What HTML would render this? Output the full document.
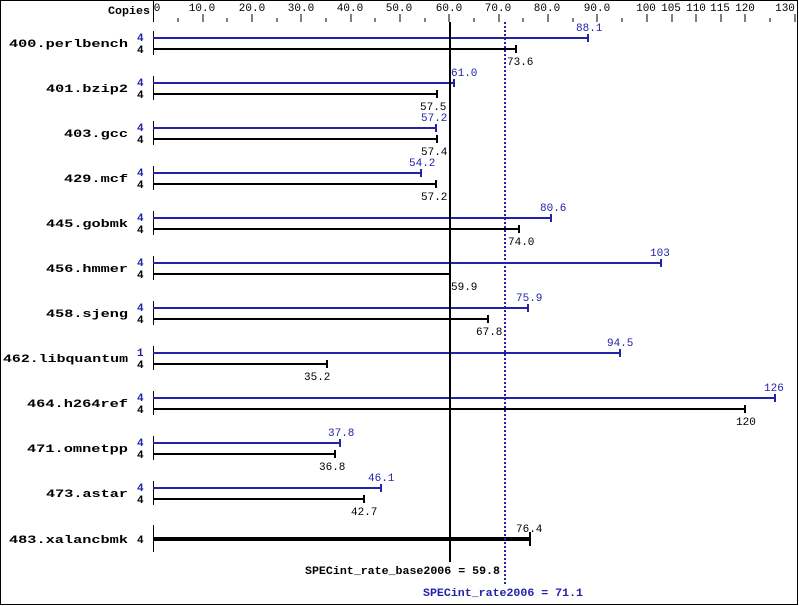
<!DOCTYPE html>
<html><head><meta charset="utf-8"><style>
html,body{margin:0;padding:0;background:#fff}
svg{display:block}
text{font-family:"Liberation Mono","DejaVu Sans Mono",monospace;font-size:11px}
.b{font-weight:bold}
.bl{fill:#2222aa}
</style></head><body>
<svg width="799" height="606" viewBox="0 0 799 606" xmlns="http://www.w3.org/2000/svg">
<rect x="0.5" y="0.5" width="797" height="604" fill="#fff" stroke="#000"/>
<text x="108" y="14" class="b" textLength="42" lengthAdjust="spacingAndGlyphs">Copies</text>
<line x1="153.5" y1="0" x2="153.5" y2="22" stroke="#000"/>
<g stroke="#000">
<line x1="203" y1="14" x2="203" y2="22"/><line x1="252" y1="14" x2="252" y2="22"/><line x1="301" y1="14" x2="301" y2="22"/><line x1="351" y1="14" x2="351" y2="22"/><line x1="400" y1="14" x2="400" y2="22"/><line x1="449" y1="14" x2="449" y2="22"/><line x1="499" y1="14" x2="499" y2="22"/><line x1="548" y1="14" x2="548" y2="22"/><line x1="597" y1="14" x2="597" y2="22"/><line x1="647" y1="14" x2="647" y2="22"/><line x1="672" y1="14" x2="672" y2="22"/><line x1="696" y1="14" x2="696" y2="22"/><line x1="721" y1="14" x2="721" y2="22"/><line x1="745" y1="14" x2="745" y2="22"/><line x1="795" y1="14" x2="795" y2="22"/>
<line x1="178" y1="18" x2="178" y2="22"/><line x1="227" y1="18" x2="227" y2="22"/><line x1="277" y1="18" x2="277" y2="22"/><line x1="326" y1="18" x2="326" y2="22"/><line x1="375" y1="18" x2="375" y2="22"/><line x1="425" y1="18" x2="425" y2="22"/><line x1="474" y1="18" x2="474" y2="22"/><line x1="523" y1="18" x2="523" y2="22"/><line x1="573" y1="18" x2="573" y2="22"/><line x1="622" y1="18" x2="622" y2="22"/><line x1="770" y1="18" x2="770" y2="22"/>
</g>
<g text-anchor="middle">
<text x="157" y="11">0</text><text x="202" y="11">10.0</text><text x="252" y="11">20.0</text><text x="301" y="11">30.0</text><text x="350" y="11">40.0</text><text x="399" y="11">50.0</text><text x="449" y="11">60.0</text><text x="498" y="11">70.0</text><text x="547" y="11">80.0</text><text x="597" y="11">90.0</text><text x="646" y="11">100</text><text x="671" y="11">105</text><text x="696" y="11">110</text><text x="720" y="11">115</text><text x="745" y="11">120</text><text x="785" y="11">130</text>
</g>

<g class="b">
<text x="9" y="47" textLength="119" lengthAdjust="spacingAndGlyphs">400.perlbench</text>
<text x="46" y="92" textLength="82" lengthAdjust="spacingAndGlyphs">401.bzip2</text>
<text x="64" y="137" textLength="64" lengthAdjust="spacingAndGlyphs">403.gcc</text>
<text x="64" y="182" textLength="64" lengthAdjust="spacingAndGlyphs">429.mcf</text>
<text x="46" y="227" textLength="82" lengthAdjust="spacingAndGlyphs">445.gobmk</text>
<text x="46" y="272" textLength="82" lengthAdjust="spacingAndGlyphs">456.hmmer</text>
<text x="46" y="317" textLength="82" lengthAdjust="spacingAndGlyphs">458.sjeng</text>
<text x="3" y="362" textLength="125" lengthAdjust="spacingAndGlyphs">462.libquantum</text>
<text x="27" y="407" textLength="101" lengthAdjust="spacingAndGlyphs">464.h264ref</text>
<text x="27" y="452" textLength="101" lengthAdjust="spacingAndGlyphs">471.omnetpp</text>
<text x="46" y="497" textLength="82" lengthAdjust="spacingAndGlyphs">473.astar</text>
<text x="9" y="543" textLength="119" lengthAdjust="spacingAndGlyphs">483.xalancbmk</text>
</g>
<g class="b">
<text x="137" y="41" class="bl">4</text><text x="137" y="53">4</text>
<text x="137" y="86" class="bl">4</text><text x="137" y="98">4</text>
<text x="137" y="131" class="bl">4</text><text x="137" y="143">4</text>
<text x="137" y="176" class="bl">4</text><text x="137" y="188">4</text>
<text x="137" y="221" class="bl">4</text><text x="137" y="233">4</text>
<text x="137" y="266" class="bl">4</text><text x="137" y="278">4</text>
<text x="137" y="311" class="bl">4</text><text x="137" y="323">4</text>
<text x="137" y="356" class="bl">1</text><text x="137" y="368">4</text>
<text x="137" y="401" class="bl">4</text><text x="137" y="413">4</text>
<text x="137" y="446" class="bl">4</text><text x="137" y="458">4</text>
<text x="137" y="491" class="bl">4</text><text x="137" y="503">4</text>
<text x="137" y="543">4</text>
</g>

<g stroke="#000">
<line x1="153.5" y1="31" x2="153.5" y2="55"/><line x1="153.5" y1="76" x2="153.5" y2="100"/><line x1="153.5" y1="121" x2="153.5" y2="145"/><line x1="153.5" y1="166" x2="153.5" y2="190"/><line x1="153.5" y1="211" x2="153.5" y2="235"/><line x1="153.5" y1="256" x2="153.5" y2="280"/><line x1="153.5" y1="301" x2="153.5" y2="325"/><line x1="153.5" y1="346" x2="153.5" y2="370"/><line x1="153.5" y1="391" x2="153.5" y2="415"/><line x1="153.5" y1="436" x2="153.5" y2="460"/><line x1="153.5" y1="481" x2="153.5" y2="505"/><line x1="153.5" y1="525" x2="153.5" y2="552"/>
</g>

<g stroke="#2222aa" stroke-width="2">
<line x1="153" y1="38" x2="588" y2="38"/><line x1="588" y1="34" x2="588" y2="42"/>
<line x1="153" y1="83" x2="454" y2="83"/><line x1="454" y1="79" x2="454" y2="87"/>
<line x1="153" y1="128" x2="436" y2="128"/><line x1="436" y1="124" x2="436" y2="132"/>
<line x1="153" y1="173" x2="421" y2="173"/><line x1="421" y1="169" x2="421" y2="177"/>
<line x1="153" y1="218" x2="551" y2="218"/><line x1="551" y1="214" x2="551" y2="222"/>
<line x1="153" y1="263" x2="661" y2="263"/><line x1="661" y1="259" x2="661" y2="267"/>
<line x1="153" y1="308" x2="528" y2="308"/><line x1="528" y1="304" x2="528" y2="312"/>
<line x1="153" y1="353" x2="620" y2="353"/><line x1="620" y1="349" x2="620" y2="357"/>
<line x1="153" y1="398" x2="775" y2="398"/><line x1="775" y1="394" x2="775" y2="402"/>
<line x1="153" y1="443" x2="340" y2="443"/><line x1="340" y1="439" x2="340" y2="447"/>
<line x1="153" y1="488" x2="381" y2="488"/><line x1="381" y1="484" x2="381" y2="492"/>
</g>
<g stroke="#000" stroke-width="2">
<line x1="153" y1="49" x2="516" y2="49"/><line x1="516" y1="45" x2="516" y2="53"/>
<line x1="153" y1="94" x2="437" y2="94"/><line x1="437" y1="90" x2="437" y2="98"/>
<line x1="153" y1="139" x2="437" y2="139"/><line x1="437" y1="135" x2="437" y2="143"/>
<line x1="153" y1="184" x2="436" y2="184"/><line x1="436" y1="180" x2="436" y2="188"/>
<line x1="153" y1="229" x2="519" y2="229"/><line x1="519" y1="225" x2="519" y2="233"/>
<line x1="153" y1="274" x2="449" y2="274"/>
<line x1="153" y1="319" x2="488" y2="319"/><line x1="488" y1="315" x2="488" y2="323"/>
<line x1="153" y1="364" x2="327" y2="364"/><line x1="327" y1="360" x2="327" y2="368"/>
<line x1="153" y1="409" x2="745" y2="409"/><line x1="745" y1="405" x2="745" y2="413"/>
<line x1="153" y1="454" x2="335" y2="454"/><line x1="335" y1="450" x2="335" y2="458"/>
<line x1="153" y1="499" x2="364" y2="499"/><line x1="364" y1="495" x2="364" y2="503"/>
<line x1="153" y1="539" x2="530" y2="539" stroke-width="4"/><line x1="530" y1="532" x2="530" y2="546"/>
</g>

<line x1="450" y1="22" x2="450" y2="562" stroke="#000" stroke-width="2"/>
<line x1="505" y1="22" x2="505" y2="584" stroke="#2222aa" stroke-width="2" stroke-dasharray="2,2"/>

<g class="bl">
<text x="576" y="31">88.1</text><text x="451" y="76">61.0</text><text x="421" y="121">57.2</text><text x="409" y="166">54.2</text><text x="540" y="211">80.6</text><text x="650" y="256">103</text><text x="516" y="301">75.9</text><text x="607" y="346">94.5</text><text x="764" y="391">126</text><text x="328" y="436">37.8</text><text x="368" y="481">46.1</text>
</g>
<g>
<text x="507" y="65">73.6</text><text x="420" y="110">57.5</text><text x="421" y="155">57.4</text><text x="421" y="200">57.2</text><text x="508" y="245">74.0</text><text x="451" y="290">59.9</text><text x="476" y="335">67.8</text><text x="304" y="380">35.2</text><text x="736" y="425">120</text><text x="319" y="470">36.8</text><text x="351" y="515">42.7</text><text x="516" y="532">76.4</text>
</g>
<text x="305" y="574" class="b" textLength="195" lengthAdjust="spacingAndGlyphs">SPECint_rate_base2006 = 59.8</text>
<text x="423" y="596" class="b bl" textLength="160" lengthAdjust="spacingAndGlyphs">SPECint_rate2006 = 71.1</text>
</svg>
</body></html>
